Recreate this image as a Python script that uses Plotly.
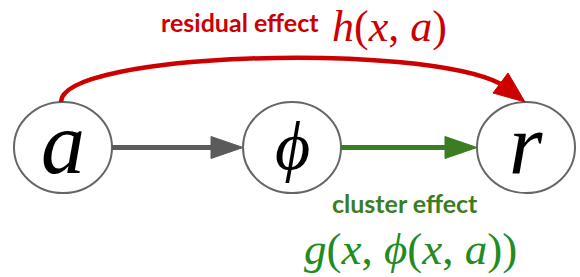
import plotly.graph_objects as go

# ---- data ----
node_labels = ["a", "ϕ", "r"]
edge_from = [0, 1, 0]
edge_to = [1, 2, 2]
edge_names = ["", "cluster effect", "residual effect"]
edge_math = ["", "<i>g</i>(<i>x</i>, <i>ϕ</i>(<i>x</i>, <i>a</i>))", "<i>h</i>(<i>x</i>, <i>a</i>)"]

# ---- layout constants (page pixels) ----
W, H = 580, 277
node_x = [63, 292, 526]
node_y = 147.5
RX, RY = 49, 45.5
node_font = [88, 68, 86]
node_dy = [-4, -2, -3]
GRAY = "#5b5b5b"
RED = "#cc0000"
GREEN = "#3b7d23"
GREEN_M = "#228b22"

fig = go.Figure()
fig.add_trace(go.Scatter(x=[0, W], y=[0, H], mode="markers", marker=dict(opacity=0),
                         hoverinfo="skip", showlegend=False))

shapes = []
annotations = []

# nodes
for i, lab in enumerate(node_labels):
    cx = node_x[i]
    shapes.append(dict(type="circle", xref="x", yref="y", x0=cx - RX, x1=cx + RX, y0=node_y - RY, y1=node_y + RY,
                       line=dict(color="#666666", width=2), fillcolor="white", layer="below"))
    annotations.append(dict(x=cx, y=node_y + node_dy[i], xref="x", yref="y", text="<i>%s</i>" % lab, showarrow=False,
                            font=dict(family="Liberation Serif", size=node_font[i], color="black"),
                            xanchor="center", yanchor="middle"))

# straight arrows
def straight(i, j, color):
    x0 = node_x[i] + RX
    x1 = node_x[j] - RX
    hl = 32
    shapes.append(dict(type="line", x0=x0, x1=x1 - hl + 2, y0=node_y, y1=node_y, line=dict(color=color, width=5)))
    shapes.append(dict(type="path", path="M %f %f L %f %f L %f %f Z" % (x1, node_y, x1 - hl, node_y - 11, x1 - hl, node_y + 11),
                       fillcolor=color, line=dict(color=color, width=1)))

straight(edge_from[0], edge_to[0], GRAY)
straight(edge_from[1], edge_to[1], GREEN)

# curved red arrow
sx, sy = node_x[edge_from[2]] - 2, node_y - RY
tx, ty = node_x[edge_to[2]] - 1, node_y - RY
shapes.append(dict(type="path",
                   path="M %f %f C %f %f %f %f %f %f" % (sx, sy, sx, 52, 420, 42, 501, 84),
                   line=dict(color=RED, width=4.5)))
shapes.append(dict(type="path", path="M %f %f L %f %f L %f %f Z" % (tx, ty, 493, 93, 508, 73),
                   fillcolor=RED, line=dict(color=RED, width=1)))

# labels
annotations.append(dict(x=240, y=22, text="<b>%s</b>" % edge_names[2], showarrow=False,
                        font=dict(family="Lato", size=25, color=RED), xanchor="center", yanchor="middle"))
annotations.append(dict(x=389, y=26, text=edge_math[2], showarrow=False,
                        font=dict(family="Liberation Serif", size=44, color=RED), xanchor="center", yanchor="middle"))
annotations.append(dict(x=405, y=203, text="<b>%s</b>" % edge_names[1], showarrow=False,
                        font=dict(family="Lato", size=25, color=GREEN), xanchor="center", yanchor="middle"))
annotations.append(dict(x=410, y=249, text=edge_math[1], showarrow=False,
                        font=dict(family="Liberation Serif", size=45, color=GREEN_M), xanchor="center", yanchor="middle"))

fig.update_layout(width=W, height=H, margin=dict(l=0, r=0, t=0, b=0),
                  paper_bgcolor="white", plot_bgcolor="white",
                  shapes=shapes, annotations=annotations,
                  xaxis=dict(range=[0, W], visible=False, fixedrange=True),
                  yaxis=dict(range=[H, 0], visible=False, fixedrange=True))
fig.write_html("out.html", config={"displayModeBar": False},
               post_script="document.body.style.margin='0';document.body.style.overflow='hidden';")
